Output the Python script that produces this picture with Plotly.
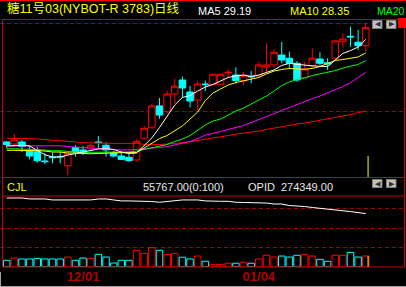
import plotly.graph_objects as go

W, H = 406, 287

# ---------------- data ----------------
bar_index = list(range(48))
opens = [22.79,22.66,22.79,22.24,22.18,21.60,21.85,21.89,21.30,22.45,22.29,22.35,22.79,22.58,22.12,21.91,21.83,21.66,23.02,23.68,
         25.04,24.68,25.79,26.66,25.91,25.41,26.41,26.39,26.39,27.10,26.97,26.62,26.89,26.91,27.47,27.60,28.22,28.02,27.70,26.80,
         27.55,27.97,27.74,28.02,29.05,29.39,29.02,28.80]
highs = [22.85,23.29,22.91,22.58,22.49,22.08,22.14,22.18,22.10,22.60,22.54,22.66,23.16,22.77,22.24,22.12,22.08,22.95,23.79,25.16,
         25.54,25.99,26.74,26.87,26.29,26.60,26.62,27.04,27.04,27.33,27.45,27.16,27.22,27.80,28.95,28.58,29.04,28.43,27.85,27.80,
         28.64,28.39,28.02,29.13,29.58,29.99,29.79,30.24]
lows = [22.41,22.49,22.16,21.70,21.49,21.41,21.45,21.45,20.72,21.87,21.97,22.29,22.39,21.87,21.83,21.70,21.55,21.58,22.95,23.62,
        24.24,24.58,25.20,25.58,24.95,24.79,25.97,26.38,26.38,26.80,26.45,26.35,26.45,26.88,27.12,27.43,27.70,27.39,26.55,26.79,
        27.39,27.60,27.29,27.91,28.70,28.74,28.54,28.43]
closes = [22.62,22.91,22.50,21.91,21.62,21.56,21.81,21.86,22.08,22.18,22.08,22.58,22.75,22.29,21.91,21.70,21.62,22.83,23.64,25.04,
          24.47,25.79,26.27,26.16,25.35,26.41,26.37,27.02,27.02,27.14,26.62,26.95,26.86,27.60,27.60,28.39,27.91,27.70,26.66,27.35,
          28.02,27.70,27.66,29.10,29.22,29.35,28.80,29.93]

ma5 = [22.54,22.57,22.58,22.54,22.25,21.99,21.85,21.85,21.97,22.07,22.18,22.25,22.35,22.37,22.32,22.16,22.07,22.10,22.54,23.04,
       23.69,24.38,25.10,25.57,25.69,25.97,26.22,26.38,26.60,26.82,26.92,26.97,26.88,26.97,27.13,27.29,27.57,27.70,27.64,27.57,
       27.54,27.52,27.49,27.91,28.32,28.50,28.72,29.19]
ma10 = [22.27,22.27,22.27,22.27,22.25,22.22,22.16,22.16,22.10,22.10,22.07,22.05,22.07,22.10,22.12,22.12,22.12,22.13,22.41,22.69,
        23.00,23.19,23.50,23.79,24.22,24.66,25.38,25.85,26.10,26.35,26.50,26.60,26.69,26.82,27.04,27.22,27.32,27.38,27.35,27.33,
        27.38,27.50,27.69,27.88,27.94,28.00,28.10,28.35]
ma20 = [22.37,22.37,22.35,22.33,22.32,22.27,22.24,22.24,22.19,22.16,22.14,22.14,22.14,22.14,22.14,22.14,22.16,22.22,22.32,22.41,
        22.50,22.63,22.82,22.97,23.19,23.50,23.85,24.10,24.22,24.47,24.72,24.91,25.16,25.44,25.66,25.97,26.32,26.54,26.69,26.79,
        26.94,27.04,27.13,27.25,27.41,27.54,27.63,27.87]
ma40 = [22.54,22.54,22.54,22.54,22.54,22.55,22.55,22.55,22.50,22.47,22.41,22.39,22.38,22.35,22.32,22.29,22.29,22.32,22.38,22.41,
        22.44,22.50,22.60,22.69,22.82,23.00,23.22,23.32,23.44,23.57,23.66,23.82,24.00,24.19,24.38,24.57,24.79,24.97,25.13,25.32,
        25.50,25.66,25.85,26.04,26.25,26.50,26.79,27.13]
ma60 = [23.02,23.02,23.00,23.00,22.97,22.94,22.91,22.88,22.85,22.79,22.74,22.72,22.70,22.70,22.70,22.70,22.70,22.70,22.64,22.63,
        22.63,22.66,22.69,22.74,22.80,22.87,22.95,23.04,23.12,23.19,23.27,23.33,23.39,23.47,23.57,23.66,23.75,23.83,23.91,23.97,
        24.05,24.13,24.22,24.32,24.41,24.50,24.60,24.74]

volume = [33000,45000,40000,40000,43000,40000,40000,40000,50000,33000,45000,43000,64000,50000,19000,33000,33000,85000,69000,98000,
          85000,64000,69000,49000,40000,55000,28000,12000,12000,18000,18000,23000,18000,40000,59000,50000,55000,50000,59000,64000,
          55000,38000,28000,59000,59000,74000,50000,55767]
open_interest = [355000,355000,355000,350000,350000,350000,345000,345000,345000,345000,345000,345000,350000,350000,345000,340000,
                 340000,340000,340000,337000,333000,338000,343000,345000,345000,345000,340000,338000,338000,338000,333000,332000,
                 331000,329000,329000,324000,324000,316000,315000,311000,306000,301000,298000,294000,289000,285000,280000,274349]

tick_positions = [10, 33]
tick_labels = ["12/01", "01/04"]

title_text = "糖11号03(NYBOT-R 3783)日线"
ma_labels = ["MA5 29.19", "MA10 28.35", "MA20"]
vol_labels = ["CJL", "55767.00(0:100)", "OPID  274349.00"]

# ---------------- styling ----------------
RED = "#ff0000"
CYAN = "#00ffff"
FRAME = "#c80000"
GRID = "#a00000"


def px(p):
    return p / W


def py(p):
    return 1 - p / H


fig = go.Figure()

fig.add_trace(go.Candlestick(
    x=bar_index, open=opens, high=highs, low=lows, close=closes,
    increasing=dict(line=dict(color=RED, width=1), fillcolor="#000000"),
    decreasing=dict(line=dict(color=CYAN, width=1), fillcolor=CYAN),
    whiskerwidth=0, xaxis="x", yaxis="y", hoverinfo="skip"))

for vals, col in [(ma60, "#ff0000"), (ma40, "#ff00ff"), (ma20, "#00ff00"), (ma10, "#ffff00"), (ma5, "#ffffff")]:
    fig.add_trace(go.Scatter(x=bar_index, y=vals, mode="lines", line=dict(color=col, width=1),
                             xaxis="x", yaxis="y", hoverinfo="skip"))

vol_colors = [RED if c >= o else CYAN for o, c in zip(opens, closes)]
fig.add_trace(go.Bar(x=bar_index, y=volume, width=0.85,
                     marker=dict(color="rgba(0,0,0,0)", line=dict(color=vol_colors, width=1)),
                     xaxis="x2", yaxis="y2", hoverinfo="skip"))
fig.add_trace(go.Scatter(x=bar_index, y=open_interest, mode="lines", line=dict(color="#ffffff", width=1),
                         xaxis="x2", yaxis="y2", hoverinfo="skip"))

x_range = [-6.7 / 7.64, (W - 6.7) / 7.64]

fig.update_layout(
    width=W, height=H, margin=dict(l=0, r=0, t=0, b=0),
    paper_bgcolor="#000000", plot_bgcolor="#000000",
    showlegend=False, hovermode=False, boxgap=0.15, boxgroupgap=0,
    xaxis=dict(domain=[0, 1], range=x_range, anchor="y", showticklabels=False, showgrid=False,
               zeroline=False, showline=False, ticks="", rangeslider=dict(visible=False), fixedrange=True),
    yaxis=dict(domain=[py(177), py(19)], range=[20.60, 30.47], tickvals=[24.70, 30.16],
               showticklabels=False, showgrid=True, gridcolor=GRID, griddash="4px,3px", gridwidth=1,
               zeroline=False, showline=False, ticks="", fixedrange=True),
    xaxis2=dict(domain=[0, 1], range=x_range, anchor="y2", matches="x", showgrid=False, zeroline=False,
                showline=False, ticks="", tickvals=tick_positions, ticktext=tick_labels,
                tickfont=dict(family="Liberation Sans", size=13, color="#b00000", weight="bold"),
                fixedrange=True),
    yaxis2=dict(domain=[py(266.7), py(196)], range=[0, 365400], tickvals=[100000, 200000, 300000],
                showticklabels=False, showgrid=True, gridcolor=GRID, griddash="4px,3px", gridwidth=1,
                zeroline=False, showline=False, ticks="", fixedrange=True),
)

shapes = []


def hline(y, x0, x1, color, width=1):
    shapes.append(dict(type="line", xref="paper", yref="paper", x0=px(x0), x1=px(x1),
                       y0=py(y), y1=py(y), line=dict(color=color, width=width)))


def vline(x, y0, y1, color, width=1):
    shapes.append(dict(type="line", xref="paper", yref="paper", x0=px(x), x1=px(x),
                       y0=py(y0), y1=py(y1), line=dict(color=color, width=width)))


def rect(x0, y0, x1, y1, fill, line=None):
    shapes.append(dict(type="rect", xref="paper", yref="paper", x0=px(x0), x1=px(x1),
                       y0=py(y1), y1=py(y0), fillcolor=fill,
                       line=dict(color=line or fill, width=1 if line else 0)))


hline(0.5, 0, W, "#ff0000")
for yy in (19.5, 177.5, 196, 267):
    hline(yy, 2, 404.5, FRAME)
vline(2.5, 19, 267, FRAME)
vline(404.5, 19, 267, FRAME)
# cursor at last bar
last_x = bar_index[-1]
shapes.append(dict(type="line", xref="x", yref="paper", x0=last_x + 0.3, x1=last_x + 0.3,
                   y0=py(177), y1=py(156), line=dict(color="#ffff00", width=1)))
shapes.append(dict(type="line", xref="x2", yref="paper", x0=last_x + 0.3, x1=last_x + 0.3,
                   y0=py(266.7), y1=py(256), line=dict(color="#ffff00", width=1)))
# window chrome
hline(286.5, 0, W, "#a0a0a0")
vline(0.5, 272, 287, "#a0a0a0")
# small buttons
for (x0, y0) in [(372.5, 20.5), (386.5, 20.5), (372.5, 179.5), (386.5, 179.5)]:
    rect(x0, y0, x0 + 9.5, y0 + 8, "#c0c0c0", "#808080")
rect(398, 18, 406, 28, "#ff0000")

fig.update_layout(shapes=shapes)

ann = []


def text(x, y, s, color, size=11, family="Liberation Sans, Noto Sans CJK SC"):
    ann.append(dict(xref="paper", yref="paper", x=px(x), y=py(y), text=s, showarrow=False,
                    xanchor="left", yanchor="middle", font=dict(family=family, size=size, color=color),
                    borderpad=0))


text(6, 8.5, title_text, "#ffff00", size=12.5)
text(197, 10.5, ma_labels[0], "#ffffff")
text(289, 10.5, ma_labels[1], "#ffff00")
text(376, 10.5, ma_labels[2], "#00ff00", size=10.5)
text(5.5, 186.5, vol_labels[0], "#ffff00")
text(141.5, 186.5, vol_labels[1], "#e8e8e8")
text(246.5, 186.5, vol_labels[2], "#e8e8e8")
for (bx, by, s) in [(373.5, 24.5, "◀"), (387.5, 24.5, "▶"), (373.5, 183.5, "◀"), (387.5, 183.5, "▶")]:
    text(bx, by, s, "#303030", size=7, family="DejaVu Sans")

fig.update_layout(annotations=ann)

fig.write_html("out.html")
